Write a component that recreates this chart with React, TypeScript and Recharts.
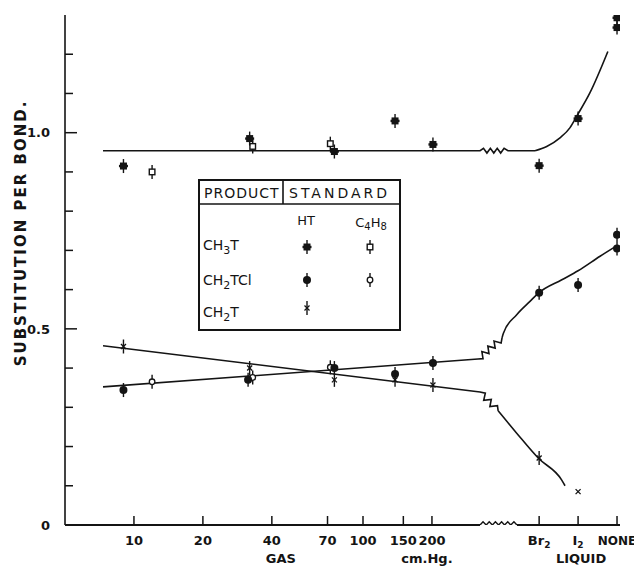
import React from 'react';
import { ComposedChart, Line, Scatter, XAxis, YAxis, ReferenceLine } from 'recharts';

const FONT = '"DejaVu Sans", "Liberation Sans", sans-serif';
const INK = '#141414';

// ---------- axes ----------
// gas pressures (cm Hg) are placed on a log scale; liquid phases follow the axis break
const GAS_PRESSURES = [10, 20, 40, 70, 100, 150, 200];
const LIQUID_CATEGORIES = ['Br2', 'I2', 'NONE'];
const LIQUID_POSITIONS = [2.769, 2.939, 3.109]; // slots after the break, in log10(cm Hg) units
const X_TICK_LABELS = ['10', '20', '40', '70', '100', '150', '200', 'Br2', 'I2', 'NONE'];
const X_DOMAIN: [number, number] = [0.699, 3.122];
const Y_DOMAIN: [number, number] = [0, 1.3];
const Y_TICKS = [0, 0.1, 0.2, 0.3, 0.4, 0.5, 0.6, 0.7, 0.8, 0.9, 1.0, 1.1, 1.2];
const Y_LABELS: Record<string, string> = { '0': '0', '0.5': '0.5', '1': '1.0' };

// ---------- measured points: [pressure (cm Hg) or liquid, substitution per bond] ----------
type Pt = [number | string, number];
const CH3T_HT: Pt[] = [[9, 0.915], [32, 0.985], [75, 0.952], [138, 1.03], [202, 0.97], ['Br2', 0.916], ['I2', 1.036], ['NONE', 1.293], ['NONE', 1.268]];
const CH3T_C4H8: Pt[] = [[12, 0.9], [33, 0.965], [72, 0.972]];
const CH2TCL_HT: Pt[] = [[9, 0.344], [31.5, 0.37], [75, 0.4], [138, 0.385], [202, 0.413], ['Br2', 0.592], ['I2', 0.612], ['NONE', 0.74], ['NONE', 0.705]];
const CH2TCL_C4H8: Pt[] = [[12, 0.365], [33, 0.376], [72, 0.402]];
const CH2T_HT: Pt[] = [[9, 0.455], [32, 0.4], [75, 0.37], [138, 0.37], [202, 0.357], ['Br2', 0.171], ['I2', 0.085]];

// ---------- hand-drawn fit curves: [axis position (log10 cm Hg units), value] ----------
type XY = [number, number];
const CH3T_FLAT: XY[] = [[0.865, 0.954], [2.511, 0.954], [2.526, 0.96], [2.541, 0.948], [2.556, 0.96], [2.571, 0.948], [2.586, 0.96], [2.601, 0.948], [2.616, 0.96], [2.633, 0.954], [2.751, 0.954]];
const CH3T_RISE: XY[] = [[2.751, 0.954], [2.802, 0.965], [2.86, 0.987], [2.904, 1.013], [2.933, 1.042], [2.991, 1.102], [3.069, 1.207]];
const CH2TCL_FLAT: XY[] = [[0.865, 0.352], [2.502, 0.423], [2.524, 0.424], [2.519, 0.442], [2.55, 0.437], [2.545, 0.456], [2.577, 0.451], [2.572, 0.469], [2.603, 0.464], [2.607, 0.477]];
const CH2TCL_RISE: XY[] = [[2.607, 0.477], [2.613, 0.489], [2.671, 0.536], [2.729, 0.57], [2.766, 0.591], [2.868, 0.625], [2.939, 0.648], [3.035, 0.685], [3.109, 0.712]];
const CH2T_FLAT: XY[] = [[0.865, 0.457], [2.511, 0.339], [2.534, 0.336], [2.527, 0.318], [2.56, 0.32], [2.554, 0.302], [2.587, 0.304], [2.59, 0.291]];
const CH2T_FALL: XY[] = [[2.59, 0.291], [2.671, 0.234], [2.766, 0.17], [2.867, 0.115], [2.882, 0.1]];
const AXIS_BREAK: XY[] = [[2.511, 0], [2.524, 0.008], [2.538, 0], [2.551, 0.008], [2.565, 0], [2.578, 0.008], [2.592, 0], [2.605, 0.008], [2.618, 0], [2.632, 0.008], [2.645, 0], [2.659, 0.008], [2.672, 0]];
const AXIS_SEGMENTS: [number, number][] = [[X_DOMAIN[0], 2.511], [2.672, X_DOMAIN[1]]];

const pos = (at: number | string) =>
  typeof at === 'number' ? Math.log10(at) : LIQUID_POSITIONS[LIQUID_CATEGORIES.indexOf(at)];
const toPoints = (arr: Pt[]) => arr.map(([at, v]) => ({ x: pos(at), y: v }));
const toXY = (arr: XY[]) => arr.map(([x, y]) => ({ x, y }));
const X_TICKS = [...GAS_PRESSURES.map((p) => Math.log10(p)), ...LIQUID_POSITIONS];

// ---------- markers ----------
const Bar = ({ cx, cy, h = 7 }: any) => (
  <line x1={cx} x2={cx} y1={cy - h} y2={cy + h} stroke={INK} strokeWidth={1.4} />
);
const FilledSquare = ({ cx, cy }: any) => (
  <g>
    <Bar cx={cx} cy={cy} />
    <rect x={cx - 3.5} y={cy - 3.5} width={7} height={7} fill={INK} />
    <rect x={cx - 4.5} y={cy - 1.2} width={9} height={2.4} fill={INK} />
  </g>
);
const OpenSquare = ({ cx, cy }: any) => (
  <g>
    <Bar cx={cx} cy={cy} />
    <rect x={cx - 2.8} y={cy - 2.8} width={5.6} height={5.6} fill="#fff" stroke={INK} strokeWidth={1.4} />
  </g>
);
const FilledCircle = ({ cx, cy }: any) => (
  <g>
    <Bar cx={cx} cy={cy} />
    <circle cx={cx} cy={cy} r={4} fill={INK} />
  </g>
);
const OpenCircle = ({ cx, cy }: any) => (
  <g>
    <Bar cx={cx} cy={cy} />
    <circle cx={cx} cy={cy} r={2.8} fill="#fff" stroke={INK} strokeWidth={1.3} />
  </g>
);
const Cross = ({ cx, cy, bar = true }: any) => (
  <g>
    {bar && <Bar cx={cx} cy={cy} />}
    <line x1={cx - 2.5} x2={cx + 2.5} y1={cy - 2.5} y2={cy + 2.5} stroke={INK} strokeWidth={1.3} />
    <line x1={cx - 2.5} x2={cx + 2.5} y1={cy + 2.5} y2={cy - 2.5} stroke={INK} strokeWidth={1.3} />
  </g>
);
const CrossAuto = (p: any) => <Cross cx={p.cx} cy={p.cy} bar={p.payload && p.payload.y > 0.12} />;

// ---------- ticks ----------
const labelStyle = { fontFamily: FONT, fontWeight: 700, fontSize: 13, fill: INK } as const;

const Sub = ({ text }: { text: string }) => {
  const m = text.match(/^([A-Za-z]+)(\d)$/);
  if (!m) return <>{text}</>;
  return (
    <>
      <tspan>{m[1]}</tspan>
      <tspan dy={3} fontSize={9}>{m[2]}</tspan>
    </>
  );
};

const YTick = (props: any) => {
  const { x, y, payload } = props;
  const key = String(Math.round(payload.value * 10) / 10);
  const label = Y_LABELS[key];
  const major = label !== undefined;
  return (
    <g>
      {payload.value > 0 && (
        <line x1={x} x2={x + (major ? 12 : 8)} y1={y} y2={y} stroke={INK} strokeWidth={1.5} />
      )}
      {major && (
        <text x={x - 15} y={y} dy="0.36em" textAnchor="end" {...labelStyle}>{label}</text>
      )}
    </g>
  );
};

const CAPTIONS: Record<number, [string, number]> = { 2: ['GAS', 9], 6: ['cm.Hg.', -5], 8: ['LIQUID', 3] };

const XTick = (props: any) => {
  const { x, y, index } = props;
  const label = X_TICK_LABELS[index];
  const cap = CAPTIONS[index];
  const long = label.length > 3;
  return (
    <g>
      <line x1={x} x2={x} y1={y} y2={y - 9} stroke={INK} strokeWidth={1.5} />
      <text x={x} y={y + 20} textAnchor="middle" {...labelStyle} fontSize={long ? 12 : 13}>
        <Sub text={label} />
      </text>
      {cap && (
        <text x={x + cap[1]} y={y + 38} textAnchor="middle" {...labelStyle}>{cap[0]}</text>
      )}
    </g>
  );
};

const YTitle = () => (
  <text
    x={13}
    y={225}
    transform="rotate(-90, 13, 225)"
    textAnchor="middle"
    dy="0.36em"
    {...labelStyle}
    fontSize={15}
    letterSpacing={2}
  >
    SUBSTITUTION PER BOND.
  </text>
);

// ---------- legend ----------
const legendText = { fontFamily: FONT, fontSize: 14, fill: INK } as const;
const LegendBox = () => (
  <svg width={205} height={154} style={{ position: 'absolute', left: 189, top: 170 }}>
    <g transform="translate(2,2)">
      <rect x={0} y={0} width={201} height={150} fill="#fff" stroke={INK} strokeWidth={2} />
      <line x1={0} x2={201} y1={24} y2={24} stroke={INK} strokeWidth={1.6} />
      <line x1={84} x2={84} y1={0} y2={24} stroke={INK} strokeWidth={1.6} />
      <text x={5} y={18} {...legendText} letterSpacing={1}>PRODUCT</text>
      <text x={90} y={18} {...legendText} letterSpacing={3}>STANDARD</text>
      <text x={107} y={45} textAnchor="middle" {...legendText} fontSize={13}>HT</text>
      <text x={172} y={47} textAnchor="middle" {...legendText} fontSize={13}>
        <tspan>C</tspan><tspan dy={3} fontSize={10}>4</tspan><tspan dy={-3}>H</tspan><tspan dy={3} fontSize={10}>8</tspan>
      </text>
      <text x={4} y={70} {...legendText}>
        <tspan>CH</tspan><tspan dy={4} fontSize={11}>3</tspan><tspan dy={-4}>T</tspan>
      </text>
      <text x={4} y={105} {...legendText}>
        <tspan>CH</tspan><tspan dy={4} fontSize={11}>2</tspan><tspan dy={-4}>TCl</tspan>
      </text>
      <text x={4} y={137} {...legendText}>
        <tspan>CH</tspan><tspan dy={4} fontSize={11}>2</tspan><tspan dy={-4}>T</tspan>
      </text>
      <FilledSquare cx={108} cy={67} />
      <OpenSquare cx={171} cy={67} />
      <FilledCircle cx={108} cy={100} />
      <OpenCircle cx={171} cy={100} />
      <Cross cx={108} cy={128} />
    </g>
  </svg>
);

export default function App() {
  const lineProps = {
    dataKey: 'y',
    dot: false,
    activeDot: false,
    stroke: INK,
    strokeWidth: 1.6,
    isAnimationActive: false,
    legendType: 'none' as const,
  };
  return (
    <div style={{ position: 'relative', width: 634, height: 559, background: '#fff' }}>
      <ComposedChart
        width={634}
        height={559}
        margin={{ top: 7, right: 22, left: 0, bottom: 0 }}
        style={{ overflow: 'visible' }}
      >
        <XAxis
          type="number"
          dataKey="x"
          domain={X_DOMAIN}
          allowDataOverflow
          ticks={X_TICKS}
          interval={0}
          axisLine={false}
          tickLine={false}
          tickSize={0}
          tickMargin={0}
          height={42}
          tick={<XTick />}
        />
        <YAxis
          type="number"
          domain={Y_DOMAIN}
          allowDataOverflow
          ticks={Y_TICKS}
          interval={0}
          width={57}
          tickLine={false}
          tickSize={0}
          tickMargin={0}
          axisLine={{ stroke: INK, strokeWidth: 1.6 }}
          tick={<YTick />}
          label={{ content: () => <YTitle /> }}
        />
        {AXIS_SEGMENTS.map(([a, b], i) => (
          <ReferenceLine
            key={i}
            segment={[{ x: a, y: 0 }, { x: b, y: 0 }]}
            stroke={INK}
            strokeWidth={1.8}
            ifOverflow="visible"
          />
        ))}
        <Line {...lineProps} data={toXY(AXIS_BREAK)} type="linear" strokeWidth={1.4} />
        <Line {...lineProps} data={toXY(CH3T_FLAT)} type="linear" />
        <Line {...lineProps} data={toXY(CH3T_RISE)} type="monotone" />
        <Line {...lineProps} data={toXY(CH2TCL_FLAT)} type="linear" />
        <Line {...lineProps} data={toXY(CH2TCL_RISE)} type="monotone" />
        <Line {...lineProps} data={toXY(CH2T_FLAT)} type="linear" />
        <Line {...lineProps} data={toXY(CH2T_FALL)} type="monotone" />
        <Scatter data={toPoints(CH3T_C4H8)} dataKey="y" shape={<OpenSquare />} isAnimationActive={false} />
        <Scatter data={toPoints(CH2TCL_C4H8)} dataKey="y" shape={<OpenCircle />} isAnimationActive={false} />
        <Scatter data={toPoints(CH3T_HT)} dataKey="y" shape={<FilledSquare />} isAnimationActive={false} />
        <Scatter data={toPoints(CH2TCL_HT)} dataKey="y" shape={<FilledCircle />} isAnimationActive={false} />
        <Scatter data={toPoints(CH2T_HT)} dataKey="y" shape={<CrossAuto />} isAnimationActive={false} />
      </ComposedChart>
      <LegendBox />
    </div>
  );
}
